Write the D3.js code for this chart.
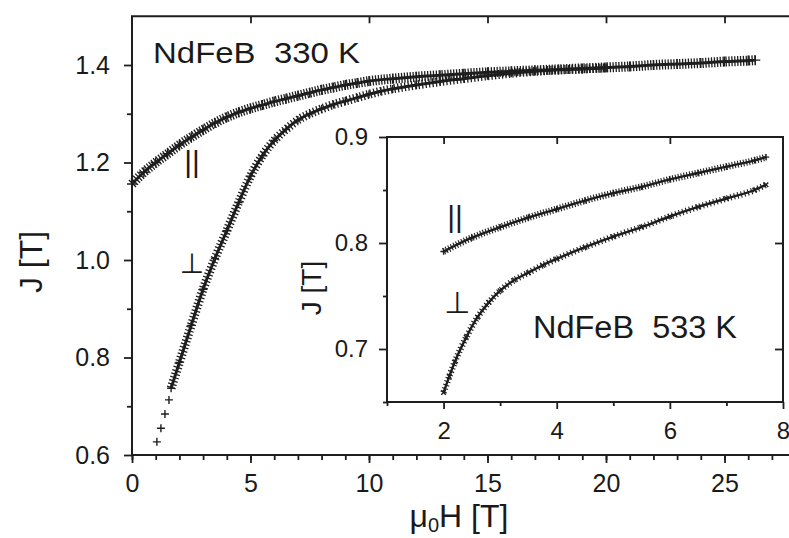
<!DOCTYPE html>
<html>
<head>
<meta charset="utf-8">
<script src="https://cdn.jsdelivr.net/npm/d3@7"></script>
<style>
body { margin: 0; background: #fff; }
text { font-family: "Liberation Sans", Arial, sans-serif; fill: #1a1a1a; }
</style>
</head>
<body>
<script>
// main panel, NdFeB 330 K
const parH = [0,0.5,1,1.5,2,2.5,3,3.5,4,4.5,5,5.5,6,6.5,7,7.5,8,8.5,9,9.5,10,11,12,13,14,15,16,17,18,19,20,21,22,23,24,25,26,26.3];
const parJ = [1.156,1.180,1.200,1.218,1.236,1.252,1.267,1.281,1.293,1.303,1.311,1.318,1.325,1.331,1.337,1.343,1.349,1.354,1.359,1.363,1.367,1.372,1.376,1.379,1.382,1.385,1.387,1.389,1.391,1.393,1.395,1.397,1.400,1.402,1.404,1.407,1.409,1.410];
const perpH = [1.05,1.22,1.39,1.56,1.65,2,2.5,3,3.5,4,4.5,5,5.5,6,6.5,7,7.5,8,8.5,9,9.5,10,10.5,11,12,13,14,15,16,17,18,19,20];
const perpJ = [0.627,0.655,0.684,0.713,0.737,0.790,0.866,0.940,1.003,1.060,1.118,1.172,1.214,1.245,1.268,1.287,1.300,1.310,1.319,1.326,1.333,1.340,1.346,1.351,1.359,1.366,1.372,1.378,1.383,1.387,1.390,1.392,1.394];

// inset, NdFeB 533 K
const insParH = [2,2.5,3,3.5,4,4.5,5,5.5,6,6.5,7,7.5,7.7];
const insParJ = [0.792,0.805,0.815,0.824,0.832,0.840,0.847,0.853,0.860,0.866,0.872,0.878,0.881];
const insPerpH = [2,2.1,2.2,2.4,2.6,2.8,3,3.25,3.5,3.75,4,4.5,5,5.5,6,6.5,7,7.5,7.7];
const insPerpJ = [0.659,0.674,0.688,0.711,0.730,0.744,0.755,0.765,0.772,0.779,0.785,0.796,0.806,0.815,0.825,0.834,0.842,0.850,0.855];

const mainXTicks = [0,5,10,15,20,25];
const mainYTicks = [0.6,0.8,1.0,1.2,1.4];
const insXTicks = [2,4,6,8];
const insYTicks = [0.7,0.8,0.9];

const zip = (a, b) => a.map((v, i) => ({h: v, j: b[i]}));
const ink = "#1e1e1e";

const svg = d3.select("body").append("svg")
  .attr("width", 789).attr("height", 538);

// ---- main panel
const x = d3.scaleLinear().domain([0, 28]).range([132, 795.6]);
const y = d3.scaleLinear().domain([0.6, 1.5]).range([455, 16.25]);

function styleAxis(g, fs) {
  g.select(".domain").remove();
  g.selectAll("line").attr("stroke", ink).attr("stroke-width", 1.8);
  g.selectAll("text").attr("font-size", fs).attr("fill", "#1a1a1a")
    .attr("font-family", "Liberation Sans, Arial, sans-serif");
}

svg.append("g").attr("transform", "translate(0,455)")
  .call(d3.axisBottom(x).tickValues(d3.range(0, 28, 1)).tickSize(5).tickFormat(""))
  .call(g => styleAxis(g, 25));
svg.append("g").attr("transform", "translate(0,455)")
  .call(d3.axisBottom(x).tickValues(mainXTicks).tickSize(8).tickPadding(11).tickFormat(d3.format("d")))
  .call(g => styleAxis(g, 25));
svg.append("g").attr("transform", "translate(0,16.25)")
  .call(d3.axisTop(x).tickValues(mainXTicks.slice(1)).tickSize(-7).tickFormat(""))
  .call(g => styleAxis(g, 25));
svg.append("g").attr("transform", "translate(132,0)")
  .call(d3.axisLeft(y).tickValues(d3.range(0.7, 1.5, 0.2)).tickSize(5).tickFormat(""))
  .call(g => styleAxis(g, 25));
svg.append("g").attr("transform", "translate(132,0)")
  .call(d3.axisLeft(y).tickValues(mainYTicks).tickSize(8).tickPadding(14).tickFormat(d3.format(".1f")))
  .call(g => styleAxis(g, 25));

svg.append("rect")
  .attr("x", x(0)).attr("y", y(1.5))
  .attr("width", x(28) - x(0)).attr("height", y(0.6) - y(1.5))
  .attr("fill", "none").attr("stroke", ink).attr("stroke-width", 2);

function drawSeries(g, data, xs, ys, opt) {
  const line = d3.line().x(d => xs(d.h)).y(d => ys(d.j)).curve(d3.curveMonotoneX);
  const dense = data.filter(d => d.h >= opt.from);
  g.append("path").attr("d", line(dense)).attr("fill", "none")
    .attr("stroke", ink).attr("stroke-width", opt.hatch)
    .attr("stroke-dasharray", opt.dash);
  g.append("path").attr("d", line(dense)).attr("fill", "none")
    .attr("stroke", ink).attr("stroke-width", opt.core);
  const s = opt.mark;
  g.selectAll(null).data(data).join("path")
    .attr("transform", d => `translate(${xs(d.h)},${ys(d.j)})` + (opt.rot ? " rotate(45)" : ""))
    .attr("d", `M${-s},0h${2 * s}M0,${-s}v${2 * s}`)
    .attr("stroke", ink).attr("stroke-width", 1.4);
}

const mainG = svg.append("g");
drawSeries(mainG, zip(parH, parJ), x, y, {from: 0, hatch: 10, dash: "1.3 1.6", core: 3, mark: 5});
drawSeries(mainG, zip(perpH, perpJ), x, y, {from: 1.6, hatch: 9, dash: "1.3 2.2", core: 3, mark: 4});

svg.append("text").attr("x", 153).attr("y", 63)
  .attr("font-size", 30).attr("textLength", 207).attr("lengthAdjust", "spacingAndGlyphs")
  .style("white-space", "pre").text("NdFeB  330 K");
svg.append("text").attr("x", 192).attr("y", 172).attr("text-anchor", "middle")
  .attr("font-size", 30).text("||");
svg.append("text").attr("x", 192).attr("y", 273).attr("text-anchor", "middle")
  .attr("font-size", 28).style("font-family", "DejaVu Sans").text("⊥");

svg.append("text").attr("transform", "translate(42,262) rotate(-90)")
  .attr("text-anchor", "middle").attr("font-size", 32).text("J [T]");
const xl = svg.append("text").attr("x", 459).attr("y", 527)
  .attr("text-anchor", "middle").attr("font-size", 32);
xl.append("tspan").text("μ");
xl.append("tspan").attr("font-size", 20).attr("dy", 5).text("0");
xl.append("tspan").attr("dy", -5).text("H [T]");

// ---- inset
const xi = d3.scaleLinear().domain([1, 8]).range([387, 783]);
const yi = d3.scaleLinear().domain([0.65, 0.9]).range([402, 137]);

svg.append("rect")
  .attr("x", xi(1)).attr("y", yi(0.9))
  .attr("width", xi(8) - xi(1)).attr("height", yi(0.65) - yi(0.9))
  .attr("fill", "#fff").attr("stroke", ink).attr("stroke-width", 2);

svg.append("g").attr("transform", "translate(0,402)")
  .call(d3.axisBottom(xi).tickValues([1, 3, 5, 7]).tickSize(4).tickFormat(""))
  .call(g => styleAxis(g, 24));
svg.append("g").attr("transform", "translate(0,402)")
  .call(d3.axisBottom(xi).tickValues(insXTicks).tickSize(7).tickPadding(13).tickFormat(d3.format("d")))
  .call(g => styleAxis(g, 24));
svg.append("g").attr("transform", "translate(0,137)")
  .call(d3.axisTop(xi).tickValues(insXTicks.slice(0, 3)).tickSize(-7).tickFormat(""))
  .call(g => styleAxis(g, 24));
svg.append("g").attr("transform", "translate(387,0)")
  .call(d3.axisLeft(yi).tickValues([0.65, 0.75, 0.85]).tickSize(4).tickFormat(""))
  .call(g => styleAxis(g, 24));
svg.append("g").attr("transform", "translate(387,0)")
  .call(d3.axisLeft(yi).tickValues(insYTicks).tickSize(8).tickPadding(11).tickFormat(d3.format(".1f")))
  .call(g => styleAxis(g, 24));
svg.append("g").attr("transform", "translate(783,0)")
  .call(d3.axisRight(yi).tickValues(insYTicks.slice(0, 2)).tickSize(-8).tickFormat(""))
  .call(g => styleAxis(g, 24));

const insG = svg.append("g");
drawSeries(insG, zip(insParH, insParJ), xi, yi, {from: 0, hatch: 7, dash: "1.1 1.8", core: 2.4, mark: 3.2});
drawSeries(insG, zip(insPerpH, insPerpJ), xi, yi, {from: 0, hatch: 6.5, dash: "1.1 2.5", core: 2.4, mark: 3.2, rot: true});

svg.append("text").attr("x", 533).attr("y", 338)
  .attr("font-size", 31).attr("textLength", 204).attr("lengthAdjust", "spacingAndGlyphs")
  .style("white-space", "pre").text("NdFeB  533 K");
svg.append("text").attr("x", 455).attr("y", 227).attr("text-anchor", "middle")
  .attr("font-size", 30).text("||");
svg.append("text").attr("x", 457).attr("y", 313).attr("text-anchor", "middle")
  .attr("font-size", 30).style("font-family", "DejaVu Sans").text("⊥");
svg.append("text").attr("transform", "translate(321,288) rotate(-90)")
  .attr("text-anchor", "middle").attr("font-size", 28).text("J [T]");
</script>
</body>
</html>
